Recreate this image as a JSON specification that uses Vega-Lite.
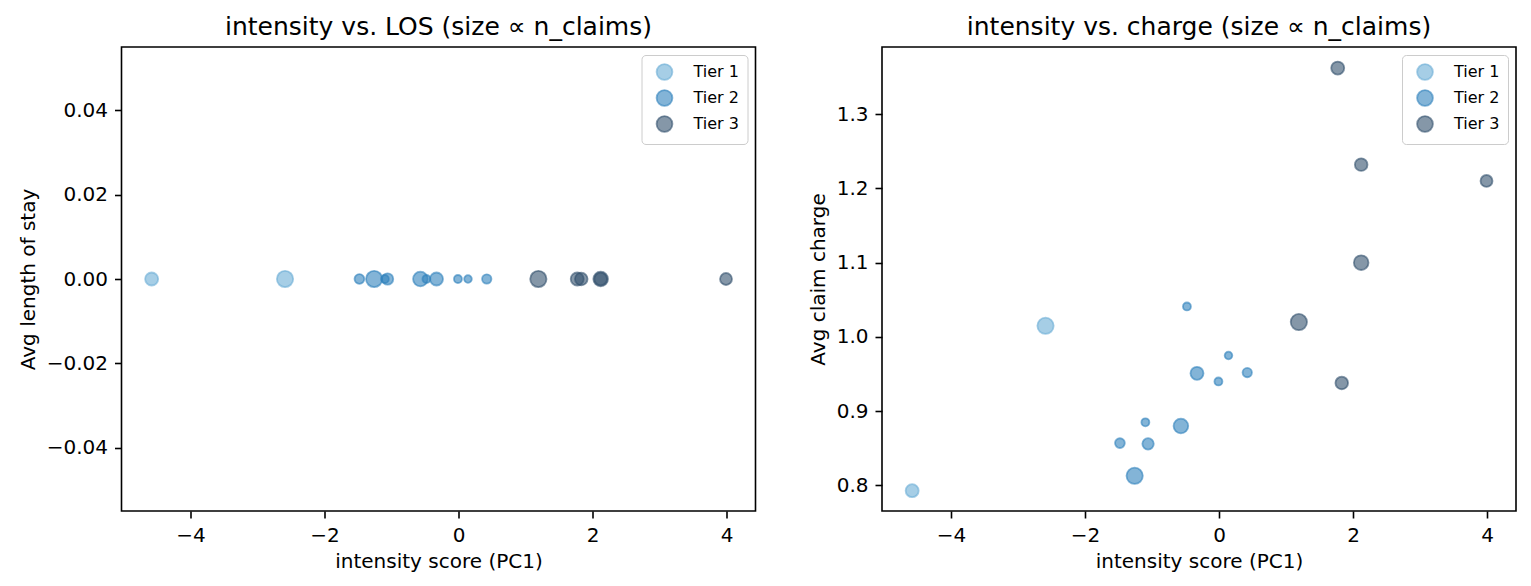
{
  "$schema": "https://vega.github.io/schema/vega-lite/v6.json",
  "background": "white",
  "padding": {"left": 16.5, "top": 14, "right": 0, "bottom": 0},
  "bounds": "flush",
  "spacing": 126.5,
  "config": {
    "font": "DejaVu Sans",
    "view": {"stroke": "#000000", "strokeWidth": 1.6},
    "axis": {
      "grid": false, "domain": false,
      "tickColor": "#000000", "tickSize": 7, "tickWidth": 1.6,
      "labelFontSize": 20, "labelColor": "#000000", "labelPadding": 7,
      "labelFlush": false, "labelOverlap": false,
      "titleFontSize": 20, "titleFontWeight": "normal", "titleColor": "#000000", "titlePadding": 8
    },
    "axisX": {"titlePadding": 6},
    "title": {"fontSize": 25, "fontWeight": "normal", "color": "#000000", "offset": 7, "anchor": "middle", "frame": "group"},
    "legend": {
      "orient": "top-right", "offset": 8, "title": null,
      "strokeColor": "#cccccc", "fillColor": "white", "cornerRadius": 4, "padding": 8,
      "labelFontSize": 16, "labelColor": "#000000", "labelOffset": 20,
      "symbolSize": 250, "symbolOffset": 6, "rowPadding": 2, "symbolStrokeWidth": 1.8
    }
  },
  "datasets": {
    "pts": [
      {"tier": "Tier 1", "intensity": -4.58, "los": 0, "charge": 0.793, "n_claims": 256},
      {"tier": "Tier 1", "intensity": -2.59, "los": 0, "charge": 1.015, "n_claims": 400},
      {"tier": "Tier 2", "intensity": -1.48, "los": 0, "charge": 0.857, "n_claims": 144},
      {"tier": "Tier 2", "intensity": -1.26, "los": 0, "charge": 0.813, "n_claims": 400},
      {"tier": "Tier 2", "intensity": -1.10, "los": 0, "charge": 0.885, "n_claims": 96},
      {"tier": "Tier 2", "intensity": -1.06, "los": 0, "charge": 0.856, "n_claims": 196},
      {"tier": "Tier 2", "intensity": -0.57, "los": 0, "charge": 0.880, "n_claims": 324},
      {"tier": "Tier 2", "intensity": -0.48, "los": 0, "charge": 1.041, "n_claims": 96},
      {"tier": "Tier 2", "intensity": -0.33, "los": 0, "charge": 0.951, "n_claims": 256},
      {"tier": "Tier 2", "intensity": -0.01, "los": 0, "charge": 0.940, "n_claims": 96},
      {"tier": "Tier 2", "intensity": 0.14, "los": 0, "charge": 0.975, "n_claims": 88},
      {"tier": "Tier 2", "intensity": 0.42, "los": 0, "charge": 0.952, "n_claims": 132},
      {"tier": "Tier 3", "intensity": 1.19, "los": 0, "charge": 1.020, "n_claims": 400},
      {"tier": "Tier 3", "intensity": 1.77, "los": 0, "charge": 1.362, "n_claims": 256},
      {"tier": "Tier 3", "intensity": 1.83, "los": 0, "charge": 0.938, "n_claims": 240},
      {"tier": "Tier 3", "intensity": 2.12, "los": 0, "charge": 1.232, "n_claims": 240},
      {"tier": "Tier 3", "intensity": 2.12, "los": 0, "charge": 1.100, "n_claims": 324},
      {"tier": "Tier 3", "intensity": 3.99, "los": 0, "charge": 1.210, "n_claims": 216}
    ]
  },
  "hconcat": [
    {
      "width": 634, "height": 464,
      "title": "intensity vs. LOS (size ∝ n_claims)",
      "data": {"name": "pts"},
      "mark": {"type": "circle", "fillOpacity": 0.6, "strokeOpacity": 0.6, "strokeWidth": 1.8},
      "encoding": {
        "x": {"field": "intensity", "type": "quantitative", "scale": {"domain": [-5.03, 4.43], "nice": false, "zero": false}, "axis": {"values": [-4, -2, 0, 2, 4], "title": "intensity score (PC1)"}},
        "y": {"field": "los", "type": "quantitative", "scale": {"domain": [-0.055, 0.055], "nice": false, "zero": false}, "axis": {"values": [-0.04, -0.02, 0, 0.02, 0.04], "format": ".2f", "title": "Avg length of stay"}},
        "fill": {"field": "tier", "type": "nominal", "scale": {"domain": ["Tier 1", "Tier 2", "Tier 3"], "range": ["#6baed6", "#3182bd", "#34526e"]}, "legend": {"encode": {"symbols": {"update": {"fillOpacity": {"value": 0.6}, "strokeOpacity": {"value": 0.6}}}}}},
        "stroke": {"field": "tier", "type": "nominal", "scale": {"domain": ["Tier 1", "Tier 2", "Tier 3"], "range": ["#6baed6", "#3182bd", "#34526e"]}},
        "size": {"field": "n_claims", "type": "quantitative", "scale": {"domain": [0, 400], "range": [0, 265]}, "legend": null}
      }
    },
    {
      "width": 634, "height": 464,
      "title": "intensity vs. charge (size ∝ n_claims)",
      "data": {"name": "pts"},
      "mark": {"type": "circle", "fillOpacity": 0.6, "strokeOpacity": 0.6, "strokeWidth": 1.8},
      "encoding": {
        "x": {"field": "intensity", "type": "quantitative", "scale": {"domain": [-5.03, 4.43], "nice": false, "zero": false}, "axis": {"values": [-4, -2, 0, 2, 4], "title": "intensity score (PC1)"}},
        "y": {"field": "charge", "type": "quantitative", "scale": {"domain": [0.7656, 1.3904], "nice": false, "zero": false}, "axis": {"values": [0.8, 0.9, 1.0, 1.1, 1.2, 1.3], "format": ".1f", "title": "Avg claim charge"}},
        "fill": {"field": "tier", "type": "nominal", "scale": {"domain": ["Tier 1", "Tier 2", "Tier 3"], "range": ["#6baed6", "#3182bd", "#34526e"]}, "legend": {"encode": {"symbols": {"update": {"fillOpacity": {"value": 0.6}, "strokeOpacity": {"value": 0.6}}}}}},
        "stroke": {"field": "tier", "type": "nominal", "scale": {"domain": ["Tier 1", "Tier 2", "Tier 3"], "range": ["#6baed6", "#3182bd", "#34526e"]}},
        "size": {"field": "n_claims", "type": "quantitative", "scale": {"domain": [0, 400], "range": [0, 265]}, "legend": null}
      }
    }
  ],
  "resolve": {
    "scale": {"x": "independent", "y": "independent", "fill": "independent", "stroke": "independent", "size": "independent"},
    "legend": {"fill": "independent", "stroke": "independent", "size": "independent"}
  }
}
